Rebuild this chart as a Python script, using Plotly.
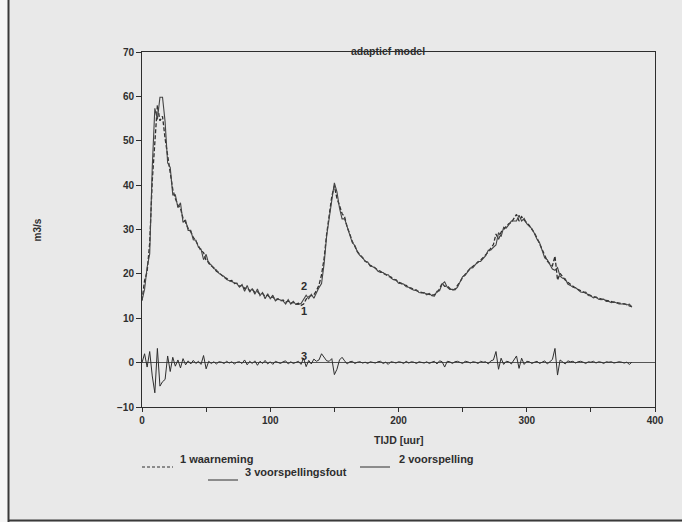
import plotly.graph_objects as go

# ---------------- data ----------------
hours = list(range(0, 384, 2))  # sampling grid, 2-hourly

waarneming = [
    14.0, 18.5, 20.5, 27.0, 41.0, 50.5, 58.0, 54.5, 55.5, 50.5,   # 0-18
    46.5, 42.0, 39.0, 37.0, 35.5, 34.8, 32.5, 31.6, 30.2, 29.5,   # 20-38
    28.2, 27.4, 26.3, 25.2, 24.8, 23.0, 22.6, 21.8, 21.4, 20.6,   # 40-58
    20.3, 19.8, 19.2, 19.0, 18.4, 18.5, 17.8, 17.9, 17.2, 17.4,   # 60-78
    16.7, 16.9, 16.2, 16.5, 15.8, 16.0, 15.4, 15.6, 14.9, 15.2,   # 80-98
    14.6, 14.8, 14.2, 14.4, 13.9, 14.1, 13.6, 13.9, 13.4, 13.6,   # 100-118
    13.2, 13.4, 12.9, 13.2, 14.3, 14.9, 15.1, 15.3, 16.2, 17.5,   # 120-138
    19.8, 23.5, 29.0, 33.5, 37.5, 39.8, 37.0, 35.4, 33.6, 32.8,   # 140-158
    30.5, 29.0, 27.3, 26.2, 25.0, 24.3, 23.6, 22.9, 22.5, 21.9,   # 160-178
    21.7, 21.2, 20.8, 20.6, 20.1, 19.9, 19.4, 19.3, 18.8, 18.6,   # 180-198
    18.1, 17.9, 17.5, 17.4, 16.9, 16.8, 16.4, 16.2, 16.0, 15.8,   # 200-218
    15.7, 15.5, 15.4, 15.2, 15.3, 15.8, 16.6, 17.9, 17.2, 17.3,   # 220-238
    16.7, 16.3, 16.6, 17.3, 18.2, 19.2, 20.0, 20.6, 21.2, 21.6,   # 240-258
    22.2, 22.6, 23.1, 23.6, 24.3, 25.0, 25.8, 26.6, 29.0, 27.8,   # 260-278
    29.4, 30.1, 30.6, 31.3, 31.6, 32.4, 33.4, 31.9, 32.9, 32.1,   # 280-298
    31.6, 30.9, 30.0, 29.2, 28.1, 26.8, 25.3, 24.0, 22.9, 22.3,   # 300-318
    21.8, 24.0, 18.6, 20.1, 19.2, 18.6, 18.1, 17.6, 17.3, 16.8,   # 320-338
    16.5, 16.2, 15.9, 15.7, 15.3, 15.1, 14.9, 14.7, 14.5, 14.3,   # 340-358
    14.1, 14.0, 13.9, 13.7, 13.6, 13.5, 13.4, 13.3, 13.2, 13.1,   # 360-378
    12.8, 12.6,                                                   # 380-382
]

voorspelling = [
    14.0, 16.5, 21.5, 24.5, 44.0, 57.3, 54.8, 59.8, 59.8, 54.3,   # 0-18
    45.0, 44.0, 37.8, 37.8, 34.9, 36.0, 31.6, 32.1, 29.8, 29.8,   # 20-38
    27.7, 27.6, 26.0, 25.6, 23.2, 24.4, 22.3, 22.0, 21.2, 20.9,   # 40-58
    20.1, 19.7, 19.4, 18.7, 18.5, 18.3, 18.1, 17.8, 17.0, 17.6,   # 60-78
    16.1, 17.4, 15.9, 16.7, 15.4, 16.6, 15.1, 15.8, 14.4, 15.5,   # 80-98
    14.4, 15.2, 13.9, 14.3, 14.1, 13.9, 13.2, 14.2, 13.2, 13.8,   # 100-118
    13.1, 13.1, 13.3, 14.2, 15.2, 14.4, 15.4, 14.5, 15.9, 16.9,   # 120-138
    17.8, 22.3, 28.6, 33.2, 36.6, 40.5, 38.5, 34.8, 32.4, 32.4,   # 140-158
    30.8, 28.8, 27.0, 26.4, 24.9, 24.1, 23.7, 22.8, 22.7, 21.7,   # 160-178
    21.6, 21.3, 20.6, 20.3, 20.3, 19.8, 19.8, 19.1, 18.7, 18.7,   # 180-198
    17.9, 17.8, 17.7, 17.1, 17.0, 16.6, 16.3, 16.4, 15.8, 15.7,   # 200-218
    15.8, 15.3, 15.6, 15.1, 15.0, 16.1, 16.2, 17.7, 18.2, 17.0,   # 220-238
    16.5, 16.5, 16.4, 17.0, 18.1, 19.4, 19.7, 20.4, 21.3, 21.4,   # 240-258
    22.1, 22.8, 22.8, 23.5, 24.1, 25.3, 25.4, 26.0, 26.5, 29.3,   # 260-278
    28.4, 30.5, 30.3, 31.1, 31.9, 31.9, 31.9, 33.2, 31.9, 32.5,   # 280-298
    31.3, 30.7, 30.2, 29.1, 27.8, 27.0, 25.1, 23.6, 23.2, 22.1,   # 300-318
    21.1, 20.8, 21.4, 19.5, 19.0, 18.9, 17.7, 17.4, 17.0, 16.9,   # 320-338
    16.3, 15.9, 15.8, 15.9, 15.1, 15.0, 14.6, 14.8, 14.3, 14.2,   # 340-358
    14.3, 13.8, 13.8, 13.5, 13.7, 13.4, 13.2, 13.2, 13.3, 13.0,   # 360-378
    13.2, 12.5,                                                   # 380-382
]

voorspellingsfout = [
    0.0, 2.0, -1.0, 2.5, -3.0, -6.8, 3.2, -5.3, -4.3, -3.8,       # 0-18
    1.5, -2.0, 1.2, -0.8, 0.6, -1.2, 0.9, -0.5, 0.4, -0.3,        # 20-38
    0.5, -0.2, 0.3, -0.4, 1.6, -1.4, 0.3, -0.2, 0.2, -0.3,        # 40-58
    0.2, 0.1, -0.2, 0.3, -0.1, 0.2, -0.3, 0.1, 0.2, -0.2,         # 60-78
    0.6, -0.5, 0.3, -0.2, 0.4, -0.6, 0.3, -0.2, 0.5, -0.3,        # 80-98
    0.2, -0.4, 0.3, 0.1, -0.2, 0.2, 0.4, -0.3, 0.2, -0.2,         # 100-118
    0.1, 0.3, -0.4, 1.0, -0.9, 0.5, -0.3, 0.8, 0.3, 0.6,          # 120-138
    2.0, 1.2, 0.4, 0.3, 0.9, -2.7, -1.5, 0.6, 1.2, 0.4,           # 140-158
    -0.3, 0.2, 0.3, -0.2, 0.1, 0.2, -0.1, 0.1, -0.2, 0.2,         # 160-178
    0.1, -0.1, 0.2, 0.3, -0.2, 0.1, -0.4, 0.2, 0.1, -0.1,         # 180-198
    0.2, 0.1, -0.2, 0.3, -0.1, 0.2, 0.1, -0.2, 0.2, 0.1,          # 200-218
    -0.1, 0.2, -0.2, 0.1, 0.3, -0.3, 0.4, 0.2, -1.0, 0.3,         # 220-238
    0.2, -0.2, 0.2, 0.3, 0.1, -0.2, 0.3, 0.2, -0.1, 0.2,          # 240-258
    0.1, -0.2, 0.3, 0.1, 0.2, -0.3, 0.4, 0.6, 2.5, -1.5,          # 260-278
    1.0, -0.4, 0.3, 0.2, -0.3, 0.5, 1.5, -1.3, 1.0, -0.4,         # 280-298
    0.3, 0.2, -0.2, 0.1, 0.3, -0.2, 0.2, 0.4, -0.3, 0.2,          # 300-318
    0.7, 3.2, -2.8, 0.6, 0.2, -0.3, 0.4, 0.2, 0.3, -0.1,          # 320-338
    0.2, 0.3, 0.1, -0.2, 0.2, 0.1, 0.3, -0.1, 0.2, 0.1,           # 340-358
    -0.2, 0.2, 0.1, 0.2, -0.1, 0.1, 0.2, 0.1, -0.1, 0.1,          # 360-378
    -0.4, 0.1,                                                    # 380-382
]

x_ticks = [0, 50, 100, 150, 200, 250, 300, 350, 400]
x_ticklabels = ["0", "", "100", "", "200", "", "300", "", "400"]
y_ticks = [-10, 0, 10, 20, 30, 40, 50, 60, 70]

series_names = ["1 waarneming", "2 voorspelling", "3 voorspellingsfout"]
curve_tags = ["1", "2", "3"]
tag_hour = 126
tag_values = [11.6, 17.2, 1.6]

# ---------------- figure ----------------
W, H = 682, 522
L, R, T, B = 142, 655, 52, 407
INK = "#2e2e2e"
BG = "#e9e9e9"
FONT = dict(family="Liberation Sans, Arial, sans-serif", size=10, color=INK, weight="bold")


def px(xp):
    return (xp - L) / (R - L)


def py(yp):
    return (B - yp) / (B - T)


fig = go.Figure()
fig.add_trace(go.Scatter(x=hours, y=waarneming, mode="lines", name=series_names[0],
                         line=dict(color=INK, width=1.3, dash="4px,2px")))
fig.add_trace(go.Scatter(x=hours, y=voorspelling, mode="lines", name=series_names[1],
                         line=dict(color="#444444", width=1.1)))
fig.add_trace(go.Scatter(x=hours, y=voorspellingsfout, mode="lines", name=series_names[2],
                         line=dict(color=INK, width=1.0)))

annotations = []
# curve tags
for tag, val in zip(curve_tags, tag_values):
    annotations.append(dict(x=tag_hour, y=val, xref="x", yref="y", text=tag, showarrow=False,
                            font=dict(FONT, size=11)))
# title, axis labels
annotations.append(dict(x=px(388), y=py(43), xref="paper", yref="paper", text="adaptief model",
                        showarrow=False, font=dict(FONT, size=10.5)))
annotations.append(dict(x=px(399), y=py(448), xref="paper", yref="paper", text="TIJD [uur]",
                        showarrow=False, font=dict(FONT, size=10.5)))
annotations.append(dict(x=px(29), y=py(230), xref="paper", yref="paper", text="m3/s",
                        showarrow=False, textangle=-90, font=dict(FONT, size=10)))

# manual legend
legend_items = [
    (142, 173, 178, 467, "3px,2px", series_names[0]),
    (360, 390, 397, 467, "solid", series_names[1]),
    (208, 238, 243, 480, "solid", series_names[2]),
]
shapes = []
for x0, x1, xt, yy, dash, label in legend_items:
    shapes.append(dict(type="line", xref="paper", yref="paper", x0=px(x0), x1=px(x1),
                       y0=py(yy), y1=py(yy), line=dict(color=INK, width=1, dash=dash)))
    annotations.append(dict(x=px(xt), y=py(yy), xref="paper", yref="paper", text=label,
                            showarrow=False, xanchor="left", font=dict(FONT, size=11)))

# page frame (scan)
shapes.append(dict(type="rect", xref="paper", yref="paper", x0=px(0), x1=px(8), y0=py(522), y1=py(0),
                   fillcolor="#f6f6f6", line=dict(width=0), layer="below"))
shapes.append(dict(type="line", xref="paper", yref="paper", x0=px(8.5), x1=px(8.5), y0=py(522), y1=py(0),
                   line=dict(color="#3a3a3a", width=2)))
shapes.append(dict(type="line", xref="paper", yref="paper", x0=px(8), x1=px(682), y0=py(520.5), y1=py(520.5),
                   line=dict(color="#3a3a3a", width=2)))

fig.update_layout(
    width=W, height=H,
    margin=dict(l=L, r=W - R, t=T, b=H - B, pad=0),
    paper_bgcolor=BG, plot_bgcolor=BG,
    showlegend=False,
    font=FONT,
    annotations=annotations,
    shapes=shapes,
)
fig.update_xaxes(range=[0, 400], tickvals=x_ticks, ticktext=x_ticklabels, ticks="outside", ticklen=4,
                 tickcolor=INK, showline=True, linecolor=INK, linewidth=1, mirror=True,
                 showgrid=False, zeroline=False, tickfont=dict(FONT, size=10))
fig.update_yaxes(range=[-10, 70], tickvals=y_ticks, ticks="outside", ticklen=5, tickcolor=INK,
                 showline=True, linecolor=INK, linewidth=1, mirror=True, showgrid=False,
                 zeroline=True, zerolinecolor="#555555", zerolinewidth=1, tickfont=dict(FONT, size=10))

fig.write_html(
    "out.html",
    config={"displayModeBar": False},
    post_script="document.body.style.margin='0';document.body.style.overflow='hidden';",
)
